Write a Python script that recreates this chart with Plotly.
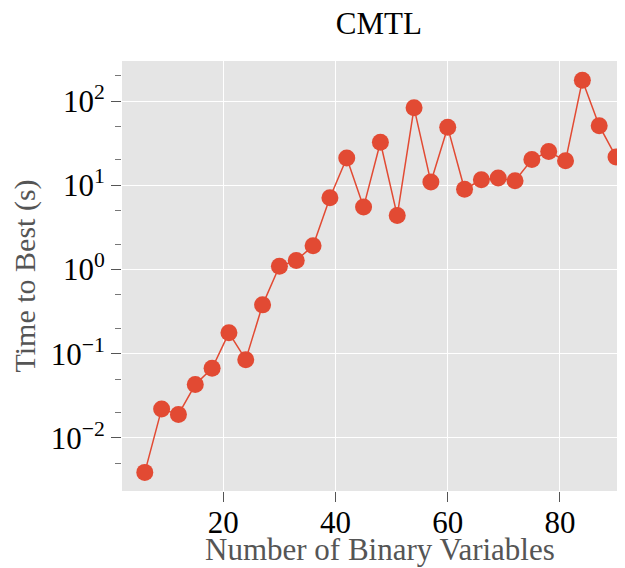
import plotly.graph_objects as go

num_vars = [6, 9, 12, 15, 18, 21, 24, 27, 30, 33, 36, 39, 42, 45, 48, 51, 54, 57, 60,
            63, 66, 69, 72, 75, 78, 81, 84, 87, 90]
time_to_best = [0.0039, 0.022, 0.019, 0.043, 0.067, 0.177, 0.085, 0.38, 1.09, 1.28, 1.91,
                7.1, 21.1, 5.5, 32.4, 4.36, 83, 10.9, 48.7, 8.96, 11.6, 12.2, 11.3, 20.2,
                25.1, 19.5, 176, 51, 21.7]

y_tickvals = [0.01, 0.1, 1, 10, 100]
y_ticktext = ["10<sup>−2</sup>", "10<sup>−1</sup>", "10<sup>0</sup>", "10<sup>1</sup>", "10<sup>2</sup>"]
x_tickvals = [20, 40, 60, 80]

red = "#E24A33"
font_family = "Liberation Serif, Times New Roman, serif"

fig = go.Figure()
fig.add_trace(go.Scatter(
    x=num_vars, y=time_to_best, mode="lines+markers",
    line=dict(color=red, width=1.5),
    marker=dict(color=red, size=17, line=dict(width=0)),
    showlegend=False,
))

# page is offset by the 8px body margin, so the figure is 617x560
fig.update_layout(
    width=617, height=560,
    margin=dict(l=114, r=0, t=53, b=77),
    paper_bgcolor="white",
    plot_bgcolor="#E5E5E5",
    font=dict(family=font_family, size=30, color="black"),
    title=dict(text="CMTL", x=0.601, xanchor="center", y=0.993, yanchor="top",
               pad=dict(t=0, b=0, l=0, r=0),
               font=dict(family=font_family, size=31, color="black")),
    annotations=[dict(
        text="Number of Binary Variables", xref="paper", yref="paper",
        x=0.513, y=-0.135, xanchor="center", yanchor="middle", showarrow=False,
        font=dict(family=font_family, size=31, color="#555555"),
    )],
)

fig.update_xaxes(
    range=[1.94, 91.6],
    tickvals=x_tickvals,
    ticks="outside", ticklen=10, tickcolor="#555555", tickwidth=1,
    ticklabelstandoff=-6,
    showgrid=True, gridcolor="white", gridwidth=1.2,
    zeroline=False, showline=False,
    tickfont=dict(size=31, color="black"),
)

fig.update_yaxes(
    type="log",
    range=[-2.63, 2.475],
    tickvals=y_tickvals, ticktext=y_ticktext,
    ticks="outside", ticklen=10, tickcolor="#555555", tickwidth=1,
    minor=dict(ticks="outside", ticklen=6, tickcolor="#777777", showgrid=False),
    showgrid=True, gridcolor="white", gridwidth=1.2,
    zeroline=False, showline=False,
    tickfont=dict(size=31, color="black"),
    title=dict(text="Time to Best (s)", standoff=8,
               font=dict(size=30, color="#555555")),
)

fig.write_html("out.html")
